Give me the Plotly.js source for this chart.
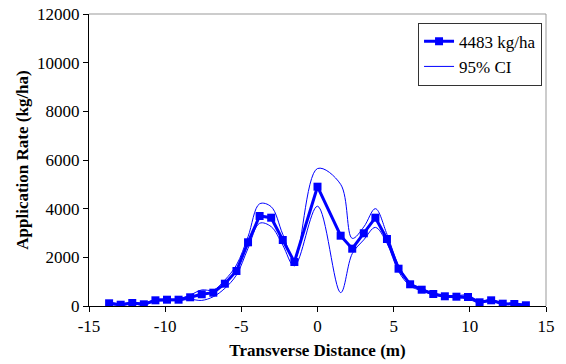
<!DOCTYPE html>
<html>
<head>
<meta charset="utf-8">
<script src="https://cdn.plot.ly/plotly-3.0.1.min.js"></script>
<style>
  html, body { margin: 0; padding: 0; background: #fff; }
  #chart { width: 566px; height: 364px; }
</style>
</head>
<body>
<div id="chart"></div>
<script>
const xDist = [-13.68, -12.92, -12.16, -11.40, -10.64, -9.88, -9.12, -8.36, -7.60, -6.84, -6.08, -5.32, -4.56, -3.80, -3.04, -2.28, -1.52, 0, 1.52, 2.28, 3.04, 3.80, 4.56, 5.32, 6.08, 6.84, 7.60, 8.36, 9.12, 9.88, 10.64, 11.40, 12.16, 12.92, 13.68];
const rate = [111, 53, 123, 70, 234, 259, 259, 358, 481, 547, 917, 1438, 2618, 3699, 3629, 2713, 1808, 4903, 2889, 2355, 2988, 3629, 2754, 1533, 892, 670, 493, 399, 382, 370, 152, 234, 95, 82, 29];
const ciUpper = [150, 90, 160, 110, 270, 290, 300, 452, 660, 650, 1069, 1685, 2850, 4200, 4080, 2947, 1900, 5650, 5000, 2780, 3250, 4000, 2950, 1660, 960, 720, 530, 430, 420, 450, 190, 270, 120, 110, 50];
const ciLower = [75, 20, 90, 35, 200, 230, 220, 275, 230, 382, 727, 1274, 2371, 3400, 3260, 2500, 1650, 4100, 550, 2150, 2720, 3230, 2580, 1420, 830, 620, 460, 370, 340, 290, 115, 200, 70, 55, 10];
const xTickVals = [-15, -10, -5, 0, 5, 10, 15];
const xTickText = ["-15", "-10", "-5", "0", "5", "10", "15"];
const yTickVals = [0, 2000, 4000, 6000, 8000, 10000, 12000];
const yTickText = ["0", "2000", "4000", "6000", "8000", "10000", "12000"];
const seriesName = "4483 kg/ha";
const ciName = "95% CI";
const xTitle = "Transverse Distance (m)";
const yTitle = "Application Rate (kg/ha)";

const blue = "#0000FF";
const font = "Liberation Serif";

const traces = [
  { x: xDist, y: rate, name: seriesName, type: "scatter", mode: "lines+markers",
    line: { color: blue, width: 3 }, marker: { symbol: "square", size: 8, color: blue } },
  { x: xDist, y: ciUpper, name: ciName, type: "scatter", mode: "lines",
    line: { color: blue, width: 1, shape: "spline", smoothing: 1 } },
  { x: xDist, y: ciLower, name: ciName, type: "scatter", mode: "lines", showlegend: false,
    line: { color: blue, width: 1, shape: "spline", smoothing: 1 } }
];

const layout = {
  width: 566, height: 364,
  margin: { l: 89, r: 20, t: 14, b: 58 },
  paper_bgcolor: "#fff", plot_bgcolor: "#fff",
  font: { family: font, size: 17, color: "#000" },
  showlegend: true,
  legend: { x: 0.72, y: 0.97, xanchor: "left", yanchor: "top",
    bgcolor: "#fff", bordercolor: "#333", borderwidth: 1,
    font: { family: font, size: 17, color: "#000" }, tracegroupgap: 0 },
  xaxis: { range: [-15, 15], tickmode: "array", tickvals: xTickVals, ticktext: xTickText,
    showgrid: false, zeroline: false,
    showline: true, linecolor: "#000", linewidth: 1, ticks: "outside", ticklen: 5, tickcolor: "#000",
    tickfont: { family: font, size: 17 },
    title: { text: "<b>" + xTitle + "</b>", font: { family: font, size: 17 }, standoff: 8 } },
  yaxis: { range: [0, 12000], tickmode: "array", tickvals: yTickVals, ticktext: yTickText,
    showgrid: false, zeroline: false,
    showline: true, linecolor: "#000", linewidth: 1, ticks: "outside", ticklen: 5, tickcolor: "#000",
    tickfont: { family: font, size: 17 },
    title: { text: "<b>" + yTitle + "</b>", font: { family: font, size: 17 }, standoff: 4 } },
  shapes: [
    { type: "line", xref: "paper", yref: "paper", x0: 0, x1: 1, y0: 1, y1: 1, line: { color: "#999", width: 1 } },
    { type: "line", xref: "paper", yref: "paper", x0: 1, x1: 1, y0: 0, y1: 1, line: { color: "#999", width: 1 } }
  ]
};

Plotly.newPlot("chart", traces, layout, { staticPlot: true, displayModeBar: false });
</script>
</body>
</html>
